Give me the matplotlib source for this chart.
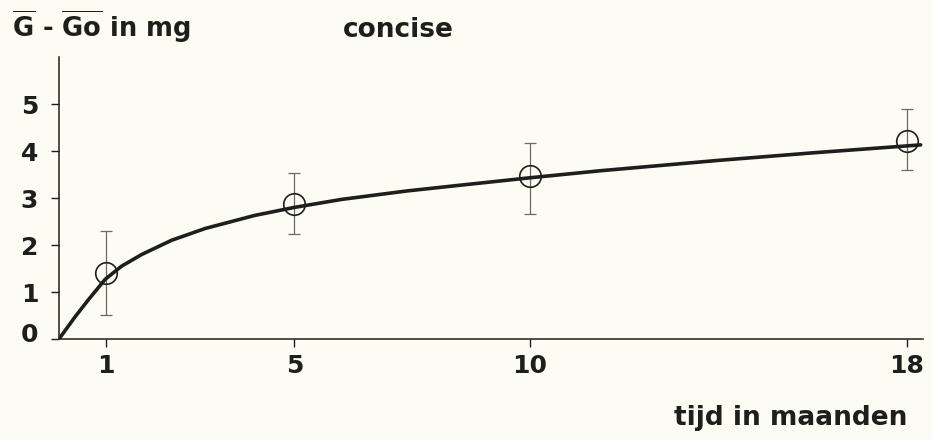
import matplotlib
matplotlib.use("Agg")
import matplotlib.pyplot as plt
from matplotlib.transforms import ScaledTranslation

# measured means with error bars
months = [1, 5, 10, 18]
mean_mg = [1.40, 2.87, 3.46, 4.22]
err_low = [0.51, 2.23, 2.66, 3.60]
err_high = [2.29, 3.53, 4.16, 4.90]

# fitted curve
curve_x = [0, 0.34, 0.62, 0.98, 1.33, 1.76, 2.39, 3.10, 4.16, 5.0, 6.0, 7.39, 8.5, 10, 11.5, 14, 16, 18.3]
curve_y = [0, 0.47, 0.83, 1.27, 1.55, 1.80, 2.10, 2.35, 2.63, 2.80, 2.97, 3.15, 3.27, 3.43, 3.58, 3.80, 3.96, 4.13]

x_ticks = [1, 5, 10, 18]
y_ticks = [0, 1, 2, 3, 4, 5]

bg = "#fdfcf2"
ink = "#1e1e1e"

plt.rcParams["font.family"] = ["DejaVu Sans"]
plt.rcParams["mathtext.fontset"] = "dejavusans"

fig = plt.figure(figsize=(9.32, 4.40), dpi=100, facecolor=bg)
ax = fig.add_axes([59 / 932, 1 - 339 / 440, 864 / 932, 282 / 440])
ax.set_facecolor(bg)

ax.plot(curve_x, curve_y, color=ink, lw=2.6, solid_capstyle="round",
        solid_joinstyle="round", zorder=3)

lower = [m - lo for m, lo in zip(mean_mg, err_low)]
upper = [hi - m for m, hi in zip(mean_mg, err_high)]
ax.errorbar(months, mean_mg, yerr=[lower, upper], fmt="none", ecolor="#6a6a66",
            elinewidth=0.9, capsize=4, capthick=0.9, zorder=2)
ax.plot(months, mean_mg, "o", ms=15.5, mfc="none", mec=ink, mew=1.2, zorder=4)

ax.set_xlim(0, 18.35)
ax.set_ylim(0, 6)
ax.set_xticks(x_ticks)
ax.set_yticks(y_ticks)
for s in ["top", "right"]:
    ax.spines[s].set_visible(False)
for s in ["left", "bottom"]:
    ax.spines[s].set_linewidth(1.1)
    ax.spines[s].set_color(ink)
ax.tick_params(axis="x", length=6, width=1, color=ink, pad=5, labelsize=18, labelcolor=ink)
ax.tick_params(axis="y", length=6, width=1, color=ink, pad=9, labelsize=18, labelcolor=ink)
for lab in ax.get_xticklabels() + ax.get_yticklabels():
    lab.set_fontweight("bold")

# the 0 label sits a little above its tick
zero = ax.get_yticklabels()[0]
zero.set_transform(zero.get_transform() + ScaledTranslation(0, 5 / 72, fig.dpi_scale_trans))

fig.text(12 / 932, 1 - 37 / 440, r"$\overline{\mathbf{G}}$ - $\overline{\mathbf{Go}}$ in mg",
         fontsize=18.5, fontweight="bold", color=ink, ha="left", va="baseline")
fig.text(343 / 932, 1 - 37 / 440, "concise", fontsize=19, fontweight="bold",
         color=ink, ha="left", va="baseline")
fig.text(907 / 932, 1 - 425 / 440, "tijd in maanden", fontsize=19, fontweight="bold",
         color=ink, ha="right", va="baseline")

fig.savefig("out.png", dpi=100, facecolor=bg)
